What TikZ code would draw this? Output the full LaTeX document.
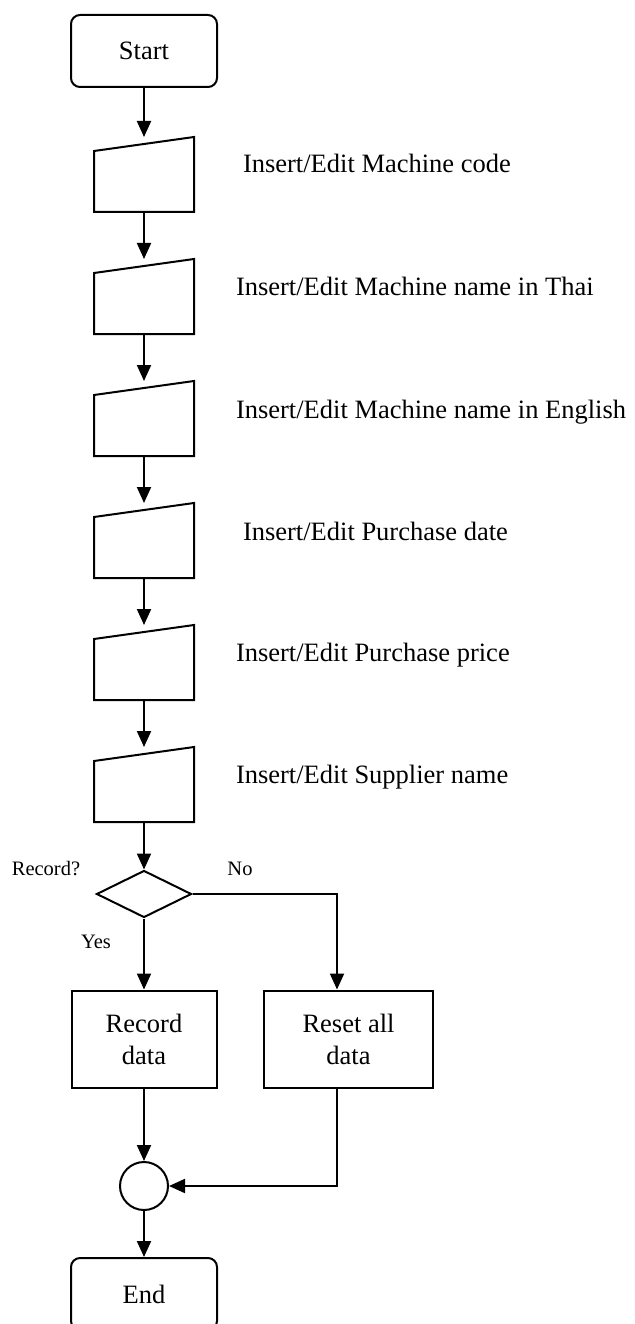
\documentclass[tikz,border=0pt]{standalone}
\usepackage{fontspec}
\setmainfont{Liberation Serif}
\usetikzlibrary{arrows.meta,shapes.geometric,calc}
\begin{document}
\begin{tikzpicture}[x=1pt,y=-1pt,
  line width=2pt,
  every node/.style={font=\fontsize{26.5}{32}\selectfont},
  term/.style={draw,rounded corners=9pt,minimum width=146pt,minimum height=72pt,inner sep=0pt},
  inbox/.style={minimum width=98pt,minimum height=73pt,inner sep=0pt},
  proc/.style={draw,minimum height=97pt,inner sep=0pt,align=center},
  dec/.style={draw,diamond,minimum width=95pt,minimum height=47pt,inner sep=0pt},
  conn/.style={draw,circle,minimum size=48pt,inner sep=0pt},
  lab/.style={inner sep=0pt,font=\fontsize{20.5}{24}\selectfont},
  itext/.style={anchor=base west,inner sep=0pt},
  flow/.style={-{Triangle[length=16pt,width=14pt]}}]
\useasboundingbox (0,0) rectangle (634,1324);
\clip (0,0) rectangle (634,1324);

\node[term] (start) at (144,51) {Start};
\node[inbox] (i1) at (144,174.5) {};
\node[inbox] (i2) at (144,296.5) {};
\node[inbox] (i3) at (144,418.5) {};
\node[inbox] (i4) at (144,540.5) {};
\node[inbox] (i5) at (144,662.5) {};
\node[inbox] (i6) at (144,784.5) {};
\foreach \n in {i1,i2,i3,i4,i5,i6}
  \draw[line join=miter] (\n.south west) -- (\n.south east) -- (\n.north east) -- ($(\n.north west)+(0,14)$) -- cycle;

\node[itext] (t1) at (242,173) {Insert/Edit Machine code};
\node[itext] (t2) at (235,295) {Insert/Edit Machine name in Thai};
\node[itext] (t3) at (235,418) {Insert/Edit Machine name in English};
\node[itext] (t4) at (242,540) {Insert/Edit Purchase date};
\node[itext] (t5) at (235,661) {Insert/Edit Purchase price};
\node[itext] (t6) at (235,783) {Insert/Edit Supplier name};

\node[dec] (d) at (144,894) {};
\node[lab] (lrec) at (46,869) {Record?};
\node[lab] (lno) at (240,869) {No};
\node[lab] (lyes) at (96,942) {Yes};

\node[proc,minimum width=145pt] (rec) at (144,1039) {Record\\data};
\node[proc,minimum width=169pt] (reset) at (348.5,1039) {Reset all\\data};
\coordinate (rx) at (337,0);

\node[conn] (c) at (144,1186) {};
\node[term] (end) at (144,1294) {End};

\draw[flow] (start) -- (i1);
\draw[flow] (i1) -- (i2);
\draw[flow] (i2) -- (i3);
\draw[flow] (i3) -- (i4);
\draw[flow] (i4) -- (i5);
\draw[flow] (i5) -- (i6);
\draw[flow] (i6.south) -- (d.north);
\draw[flow] (d.south) -- (rec.north);
\draw[flow] (d.east) -| (rx |- reset.north);
\draw[flow] (rec.south) -- (c.north);
\draw[flow] (rx |- reset.south) |- (c.east);
\draw[flow] (c.south) -- (end.north);
\end{tikzpicture}
\end{document}
